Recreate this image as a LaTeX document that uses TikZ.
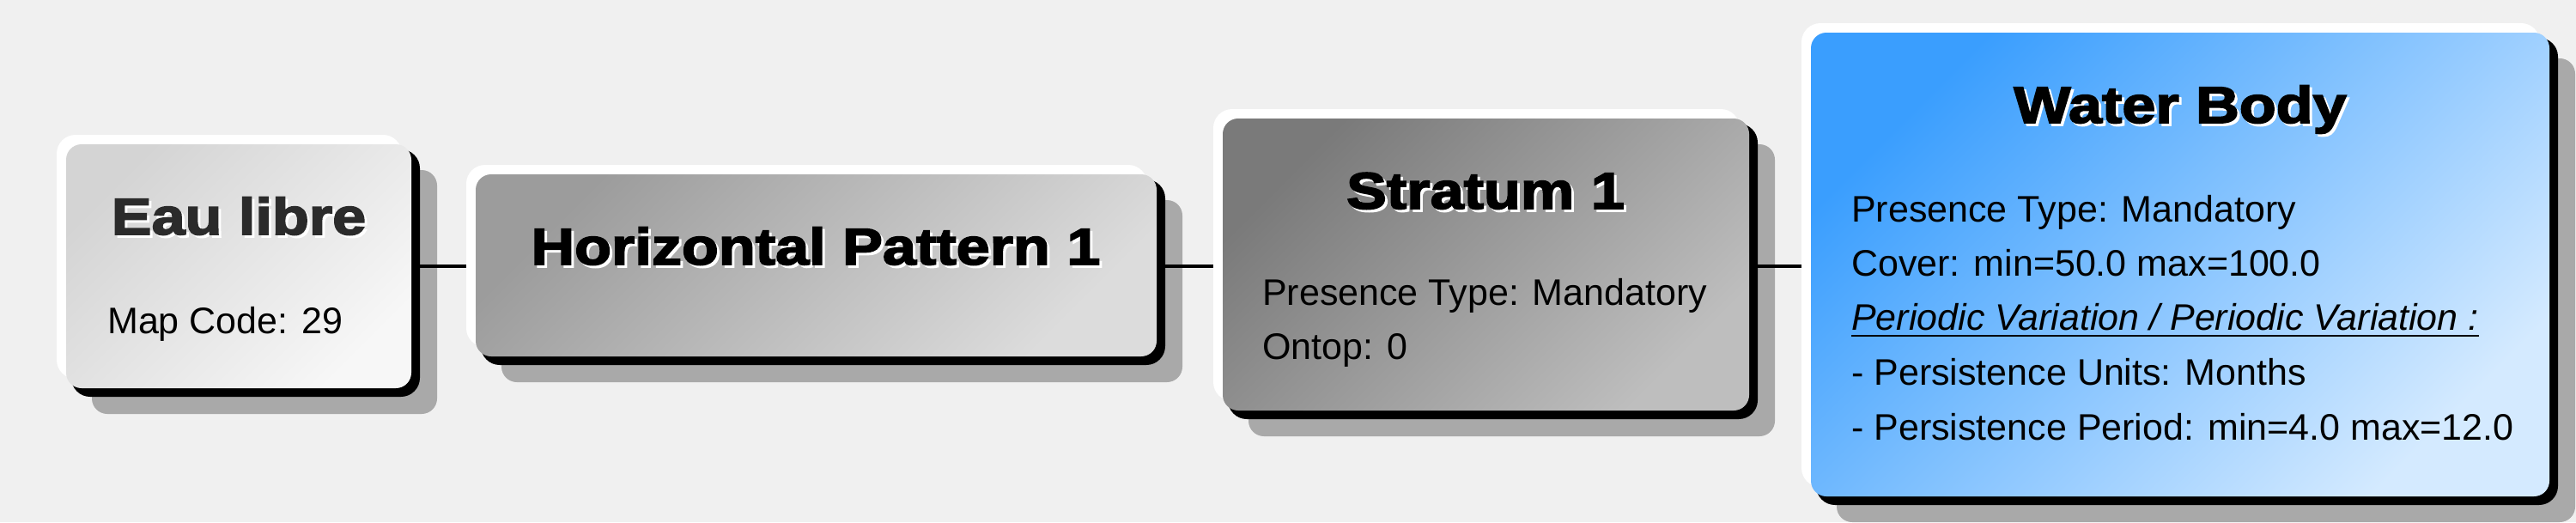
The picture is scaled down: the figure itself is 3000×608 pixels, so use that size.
\documentclass[tikz,border=0pt]{standalone}
\usepackage{fontspec}
\setmainfont{Liberation Sans}
\newfontfamily\titlefont{Liberation Sans}[FakeStretch=1.17,FakeBold=3]
\usetikzlibrary{fit,calc}
\definecolor{bggray}{HTML}{F0F0F0}
\definecolor{shadowgray}{HTML}{A9A9A9}
\definecolor{eauA}{HTML}{D4D4D4}
\definecolor{eauB}{HTML}{F7F7F7}
\definecolor{hpA}{HTML}{9C9C9C}
\definecolor{hpB}{HTML}{DCDCDC}
\definecolor{stA}{HTML}{7A7A7A}
\definecolor{stB}{HTML}{BEBEBE}
\definecolor{wbA}{HTML}{3A9EFE}
\definecolor{wbB}{HTML}{D4EAFF}
\definecolor{titledark}{HTML}{2B2B2B}
\tikzset{
  boxshadow/.style={fill=shadowgray, rounded corners=18pt},
  boxdark/.style={fill=black, rounded corners=22pt},
  boxlight/.style={fill=white, rounded corners=22pt},
  boxface/.style={inner sep=0pt, outer sep=0pt, rounded corners=18pt},
  titletext/.style={font=\titlefont\bfseries\fontsize{60}{60}\selectfont, anchor=base, inner sep=0pt},
  titleshade/.style={titletext, text=white},
  bodytext/.style={font=\fontsize{43}{63.5}\selectfont, anchor=base west, inner sep=0pt},
  link/.style={draw=black, line width=3.5pt},
  uline/.style={draw=black, line width=2.5pt}
}
\newcommand\mybox[7]{%
  \fill[boxshadow] (#2+30,#3+30) rectangle (#4+30,#5+30);
  \fill[boxdark] (#2+6,#3+6) rectangle (#4+10,#5+10);
  \fill[boxlight] (#2-11,#3-11) rectangle (#4-11,#5-11);
  \node[boxface, top color=#6, bottom color=#7, shading angle=45, fit={(#2,#3) (#4,#5)}] (#1) {};
}
\newcommand\mytitle[5]{%
  \node[titleshade] (#1s) at (#2+3,#3+3) {#5};
  \node[titletext, text=#4] (#1) at (#2,#3) {#5};
}
\begin{document}
\begin{tikzpicture}[x=1pt,y=-1pt]
\fill[bggray] (0,0) rectangle (3000,608);
\useasboundingbox (0,0) rectangle (3000,608);

% boxes
\mybox{eau}{77}{168}{479}{452}{eauA}{eauB}
\mybox{hp}{554}{203}{1347}{415}{hpA}{hpB}
\mybox{st}{1424}{138}{2037}{478}{stA}{stB}
\mybox{wb}{2109}{38}{2969}{578}{wbA}{wbB}

% titles
\mytitle{teau}{278}{273}{titledark}{Eau libre}
\mytitle{thp}{950}{308}{black}{Horizontal Pattern 1}
\mytitle{tst}{1730}{243}{black}{Stratum 1}
\mytitle{twb}{2539}{143}{black}{Water Body}

% body texts
\node[bodytext] (eau1) at (125,388) {Map Code: 29};

\node[bodytext] (st1) at (1470,355) {Presence Type: Mandatory};
\node[bodytext] (st2) at (1470,418) {Ontop: 0};

\node[bodytext] (wb1) at (2156,258) {Presence Type: Mandatory};
\node[bodytext] (wb2) at (2156,321) {Cover: min=50.0 max=100.0};
\node[bodytext] (wb3) at (2156,384) {\itshape Periodic Variation / Periodic Variation :};
\draw[uline] ([yshift=-7pt]wb3.base west) -- ([yshift=-7pt]wb3.base east);
\node[bodytext] (wb4) at (2156,448) {- Persistence Units: Months};
\node[bodytext] (wb5) at (2156,512) {- Persistence Period: min=4.0 max=12.0};

% connectors
\draw[link] ([xshift=10pt]eau.east) -- ([xshift=-11pt]hp.west |- eau.east);
\draw[link] ([xshift=10pt]hp.east |- eau.east) -- ([xshift=-11pt]st.west |- eau.east);
\draw[link] ([xshift=10pt]st.east |- eau.east) -- ([xshift=-11pt]wb.west |- eau.east);
\end{tikzpicture}
\end{document}
